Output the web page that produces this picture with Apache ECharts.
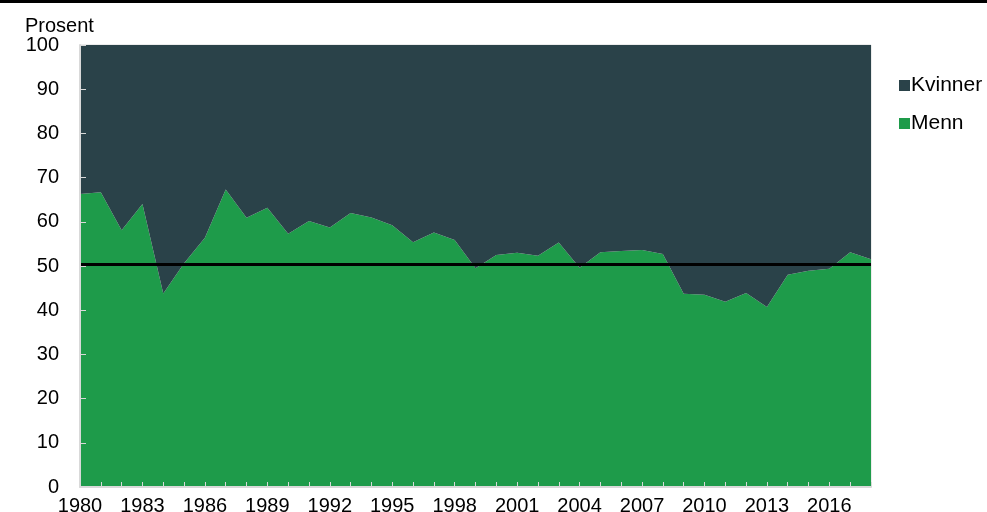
<!DOCTYPE html>
<html>
<head>
<meta charset="utf-8">
<script src="https://cdn.jsdelivr.net/npm/echarts@6/dist/echarts.min.js"></script>
<style>
  html, body { margin: 0; padding: 0; background: #fff; }
  #main { width: 987px; height: 512px; }
</style>
</head>
<body>
<div id="main"></div>
<script>
// år 1980-2018
var years = [];
for (var y = 1980; y <= 2018; y++) years.push(String(y));

// andel menn, prosent (lest av figuren)
var menn = [
  66.3, 66.7, 58.1, 64.0, 43.8, 50.6, 56.4, 67.3, 60.9, 63.2,
  57.3, 60.2, 58.7, 62.0, 61.0, 59.2, 55.4, 57.6, 55.9, 49.5,
  52.5, 53.0, 52.3, 55.3, 49.6, 53.1, 53.4, 53.6, 52.7, 43.7,
  43.5, 41.9, 43.9, 40.7, 48.0, 48.9, 49.4, 53.1, 51.5
];
// andel kvinner = resten opp til 100
var kvinner = menn.map(function (v) { return +(100 - v).toFixed(1); });

var yTicks = [0, 10, 20, 30, 40, 50, 60, 70, 80, 90, 100];

var myChart = echarts.init(document.getElementById("main"));
var font = "Liberation Sans, Arial, sans-serif";

myChart.setOption({
  animation: false,
  backgroundColor: "#fff",
  textStyle: { fontFamily: font },
  title: {
    text: "Prosent",
    left: 20,
    top: 11,
    textStyle: { fontSize: 20, fontWeight: "normal", color: "#000", fontFamily: font }
  },
  graphic: [
    { type: "rect", left: 0, top: 0, shape: { width: 987, height: 3 }, style: { fill: "#000" } }
  ],
  legend: {
    orient: "vertical",
    left: 894,
    top: 70,
    itemWidth: 11,
    itemHeight: 11,
    itemGap: 17,
    icon: "rect",
    data: ["Kvinner", "Menn"],
    textStyle: { fontSize: 21, color: "#000", fontFamily: font, padding: [0, 0, 0, -4] }
  },
  grid: {
    left: 80,
    right: 116,
    top: 45,
    bottom: 25,
    outerBoundsMode: "none",
    containLabel: false,
    show: true,
    borderColor: "#d9d9d9",
    borderWidth: 1
  },
  xAxis: {
    type: "category",
    data: years,
    boundaryGap: false,
    z: 5,
    axisLine: { lineStyle: { color: "#d9d9d9", width: 2 } },
    axisTick: { inside: true, length: 5, interval: 0, lineStyle: { color: "#d9d9d9" } },
    axisLabel: { interval: 2, fontSize: 20, color: "#000", margin: 9, fontFamily: font },
    splitLine: { show: false }
  },
  yAxis: {
    type: "value",
    min: 0,
    max: 100,
    interval: 10,
    z: 5,
    axisLine: { show: true, lineStyle: { color: "#d9d9d9", width: 2 } },
    axisTick: { show: true, inside: true, length: 6, lineStyle: { color: "#d9d9d9" } },
    axisLabel: {
      fontSize: 20, color: "#000", margin: 21, fontFamily: font,
      formatter: function (v) { return yTicks.indexOf(v) >= 0 ? String(v) : ""; }
    },
    splitLine: { show: false }
  },
  series: [
    {
      name: "Menn",
      type: "line",
      stack: "total",
      data: menn,
      symbol: "none",
      lineStyle: { width: 0 },
      areaStyle: { color: "#1e9b4a", opacity: 1 },
      itemStyle: { color: "#1e9b4a" }
    },
    {
      name: "Kvinner",
      type: "line",
      stack: "total",
      data: kvinner,
      symbol: "none",
      lineStyle: { width: 0 },
      areaStyle: { color: "#2a4249", opacity: 1 },
      itemStyle: { color: "#2a4249" },
      markLine: {
        silent: true,
        symbol: "none",
        label: { show: false },
        lineStyle: { color: "#000", width: 3, type: "solid" },
        data: [{ yAxis: 50.4 }]
      }
    }
  ]
});
</script>
</body>
</html>
